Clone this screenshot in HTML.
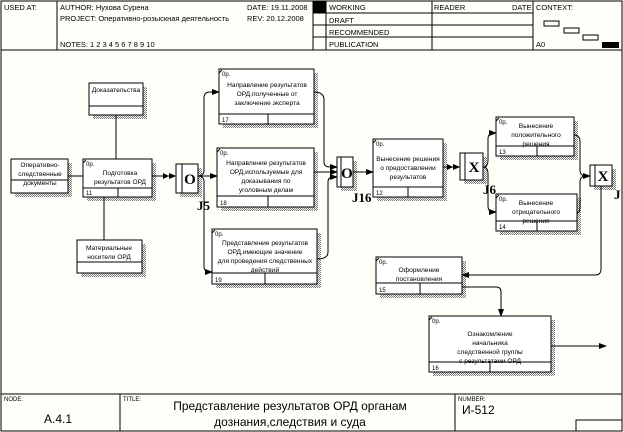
<!DOCTYPE html>
<html><head><meta charset="utf-8"><style>
html,body{margin:0;padding:0;background:#fff;}
svg{display:block;font-family:"Liberation Sans",sans-serif;}
.t{font-size:6.6px;fill:#000;}
.h{font-size:7.5px;fill:#000;}
</style></head><body>
<svg width="623" height="432" viewBox="0 0 623 432" xmlns="http://www.w3.org/2000/svg">
<defs>
<pattern id="hp" width="2" height="2" patternUnits="userSpaceOnUse">
<rect width="2" height="2" fill="#fff"/><rect width="1" height="1" fill="#777"/><rect x="1" y="1" width="1" height="1" fill="#777"/>
</pattern>
<marker id="a" markerWidth="8" markerHeight="6" refX="7" refY="3" orient="auto" markerUnits="userSpaceOnUse"><path d="M0,0 L8,3 L0,6z" fill="#000"/></marker>
<marker id="aa" markerWidth="14" markerHeight="6" refX="13" refY="3" orient="auto" markerUnits="userSpaceOnUse"><path d="M0,0 L6,3 L0,6z M6,0 L13,3 L6,6z" fill="#000"/></marker>
</defs>
<rect x="0" y="0" width="623" height="432" fill="#fffef9"/>
<rect x="1" y="1" width="621" height="430" fill="none" stroke="#000"/>
<g stroke="#000" stroke-width="1" fill="none">
<line x1="1" y1="50" x2="622" y2="50"/>
<line x1="57" y1="1" x2="57" y2="50"/>
<line x1="313" y1="1" x2="313" y2="50"/>
<line x1="326" y1="1" x2="326" y2="50"/>
<line x1="432" y1="1" x2="432" y2="50"/>
<line x1="533" y1="1" x2="533" y2="50"/>
<line x1="313" y1="13" x2="533" y2="13"/>
<line x1="313" y1="25" x2="533" y2="25"/>
<line x1="313" y1="37" x2="533" y2="37"/>
<rect x="544" y="21" width="15" height="5"/>
<rect x="564" y="28" width="15" height="5"/>
<rect x="583" y="35" width="15" height="5"/>
</g>
<rect x="313" y="1" width="13" height="12" fill="#000"/>
<rect x="602" y="42" width="17" height="6" fill="#000"/>
<text class="h" x="4" y="10">USED AT:</text>
<text class="h" x="60" y="10">AUTHOR:  Нухова Сурена</text>
<text class="h" x="60" y="21">PROJECT:  Оперативно-розыскная деятельность</text>
<text class="h" x="60" y="47">NOTES:  1  2  3  4  5  6  7  8  9  10</text>
<text class="h" x="247" y="10">DATE:  19.11.2008</text>
<text class="h" x="247" y="21">REV:    20.12.2008</text>
<text class="h" x="329" y="10">WORKING</text>
<text class="h" x="329" y="23">DRAFT</text>
<text class="h" x="329" y="35">RECOMMENDED</text>
<text class="h" x="329" y="47">PUBLICATION</text>
<text class="h" x="434" y="10">READER</text>
<text class="h" x="512" y="10">DATE</text>
<text class="h" x="536" y="10">CONTEXT:</text>
<text class="h" x="536" y="47">A0</text>
<g stroke="#000" fill="none">
<line x1="1" y1="394" x2="622" y2="394"/>
<line x1="120" y1="394" x2="120" y2="431"/>
<line x1="455" y1="394" x2="455" y2="431"/>
<rect x="576" y="420" width="46" height="11"/>
</g>
<text x="4" y="401" style="font-size:6px">NODE:</text>
<text x="44" y="423" style="font-size:12px">A.4.1</text>
<text x="123" y="401" style="font-size:6px">TITLE:</text>
<text x="290" y="410" text-anchor="middle" style="font-size:12px">Представление результатов ОРД органам</text>
<text x="290" y="426" text-anchor="middle" style="font-size:12px">дознания,следствия и суда</text>
<text x="458" y="401" style="font-size:6px">NUMBER:</text>
<text x="462" y="414" style="font-size:12px">И-512</text>

<g fill="url(#hp)">
<rect x="93" y="87" width="54" height="32"/>
<rect x="15" y="163" width="57" height="34"/>
<rect x="87" y="163" width="69" height="38"/>
<rect x="81" y="244" width="65" height="33"/>
<rect x="223" y="73" width="95" height="55"/>
<rect x="221" y="152" width="97" height="59"/>
<rect x="216" y="233" width="105" height="55"/>
<rect x="377" y="143" width="70" height="58"/>
<rect x="500" y="121" width="78" height="39"/>
<rect x="500" y="198" width="81" height="37"/>
<rect x="380" y="261" width="86" height="37"/>
<rect x="433" y="320" width="122" height="56"/>
<rect x="180" y="168" width="22" height="29"/>
<rect x="341" y="161" width="16" height="30"/>
<rect x="464" y="157" width="23" height="27"/>
<rect x="594" y="169" width="22" height="21"/>
</g>
<g stroke="#000" fill="#fff">
<rect x="89" y="83" width="54" height="32"/>
<rect x="11" y="159" width="57" height="34"/>
<rect x="83" y="159" width="69" height="38"/>
<rect x="77" y="240" width="65" height="33"/>
<rect x="219" y="69" width="95" height="55"/>
<rect x="217" y="148" width="97" height="59"/>
<rect x="212" y="229" width="105" height="55"/>
<rect x="373" y="139" width="70" height="58"/>
<rect x="496" y="117" width="78" height="39"/>
<rect x="496" y="194" width="81" height="37"/>
<rect x="376" y="257" width="86" height="37"/>
<rect x="429" y="316" width="122" height="56"/>
<rect x="176" y="164" width="22" height="29"/><line x1="182" y1="164" x2="182" y2="193"/>
<rect x="337" y="157" width="16" height="30"/><line x1="341" y1="157" x2="341" y2="187"/>
<rect x="460" y="153" width="23" height="27"/><line x1="465" y1="153" x2="465" y2="180"/>
<rect x="590" y="165" width="22" height="21"/><line x1="595" y1="165" x2="595" y2="186"/>
</g>
<g stroke="#000" fill="none">
<line x1="89" y1="106" x2="143" y2="106"/>
<line x1="11" y1="180" x2="68" y2="180"/>
<line x1="77" y1="262" x2="142" y2="262"/>
<path d="M83,188H152M118,188V197"/>
<path d="M219,114H314M268,114V124"/>
<path d="M217,196H314M268,196V207"/>
<path d="M212,273H317M265,273V284"/>
<path d="M373,187H443M408,187V197"/>
<path d="M496,146H574M537,146V156"/>
<path d="M496,221H577M537,221V231"/>
<path d="M376,283H462M420,283V294"/>
<path d="M429,362H551M490,362V372"/>
<path d="M83,163l3,-3M219,73l3,-3M217,152l3,-3M212,233l3,-3M373,143l3,-3M496,121l3,-3M496,198l3,-3M376,261l3,-3M429,320l3,-3"/>
</g>
<g class="t" text-anchor="middle">
<text x="116" y="92">Доказательства</text>
<text x="40" y="167">Оперативно-</text><text x="40" y="176">следственные</text><text x="40" y="185">документы</text>
<text x="120" y="175">Подготовка</text><text x="120" y="184">результатов  ОРД</text>
<text x="109" y="250">Материальные</text><text x="109" y="259">носители  ОРД</text>
<text x="267" y="87">Направление результатов</text><text x="267" y="96">ОРД,полученные от</text><text x="267" y="105">заключение эксперта</text>
<text x="266" y="165">Направление результатов</text><text x="266" y="174">ОРД,используемые для</text><text x="266" y="183">доказывания по</text><text x="266" y="192">уголовным делам</text>
<text x="265" y="245">Представление результатов</text><text x="265" y="254">ОРД,имеющие значение</text><text x="265" y="263">для проведения следственных</text><text x="265" y="272">действий</text>
<text x="408" y="161">Вынесение решения</text><text x="408" y="170">о предоставлении</text><text x="408" y="179">результатов</text>
<text x="536" y="128">Вынесение</text><text x="536" y="137">положительного</text><text x="536" y="146">решения</text>
<text x="536" y="205">Вынесение</text><text x="536" y="214">отрицательного</text><text x="536" y="223">решения</text>
<text x="419" y="272">Оформление</text><text x="419" y="281">постановления</text>
<text x="490" y="336">Ознакомление</text><text x="490" y="345">начальника</text><text x="490" y="354">следственной группы</text><text x="490" y="363">с результатами ОРД</text>
</g>
<g class="t" style="font-size:6px">
<text x="86" y="166">0р.</text><text x="222" y="76">0р.</text><text x="220" y="155">0р.</text><text x="215" y="236">0р.</text>
<text x="376" y="146">0р.</text><text x="499" y="124">0р.</text><text x="499" y="201">0р.</text><text x="379" y="264">0р.</text><text x="432" y="323">0р.</text>
<text x="86" y="195">11</text><text x="222" y="122">17</text><text x="220" y="205">18</text><text x="215" y="282">19</text>
<text x="376" y="195">12</text><text x="499" y="154">13</text><text x="499" y="229">14</text><text x="379" y="292">15</text><text x="432" y="370">16</text>
</g>
<g style="font-family:'Liberation Serif',serif;font-weight:bold;font-size:15px" text-anchor="middle">
<text x="190" y="184">O</text><text x="347" y="178">O</text><text x="474" y="172">X</text><text x="603" y="181">X</text>
</g>
<g style="font-family:'Liberation Serif',serif;font-weight:bold;font-size:13px">
<text x="197" y="210">J5</text><text x="352" y="202">J16</text><text x="483" y="194">J6</text><text x="614" y="199">J</text>
</g>
<g stroke="#000" fill="none">
<line x1="68" y1="176" x2="83" y2="176"/>
<line x1="116" y1="115" x2="116" y2="159"/>
<line x1="104" y1="240" x2="104" y2="197"/>
<line x1="152" y1="176" x2="176" y2="176" marker-end="url(#aa)"/>
<path d="M198,176H217" marker-end="url(#a)"/>
<path d="M198,176Q204,176 204,170V98Q204,92 210,92H219" marker-end="url(#a)"/>
<path d="M198,176Q204,176 204,182V266Q204,272 210,272H212" marker-end="url(#a)"/>
<path d="M314,92Q324,92 324,100V162Q324,167 330,167H337" marker-end="url(#a)"/>
<path d="M314,172H337" marker-end="url(#a)"/>
<path d="M317,259Q328,259 328,252V182Q328,177 333,177H337" marker-end="url(#a)"/>
<path d="M353,172H373" marker-end="url(#a)"/>
<path d="M443,167H460" marker-end="url(#aa)"/>
<path d="M483,167Q488,167 488,160V139Q488,133 494,133H496" marker-end="url(#a)"/>
<path d="M483,167Q488,167 488,174V206Q488,212 494,212H496" marker-end="url(#a)"/>
<path d="M574,135Q580,135 580,142V170Q580,176 586,176H590" marker-end="url(#a)"/>
<path d="M577,213Q580,213 580,206V182Q580,176 586,176"/>
<path d="M601,186V269Q601,275 595,275H462" marker-end="url(#a)"/>
<path d="M462,287H496Q501,287 501,292V316" marker-end="url(#a)"/>
<path d="M551,346H606" marker-end="url(#a)"/>
</g>
</svg>
</body></html>
